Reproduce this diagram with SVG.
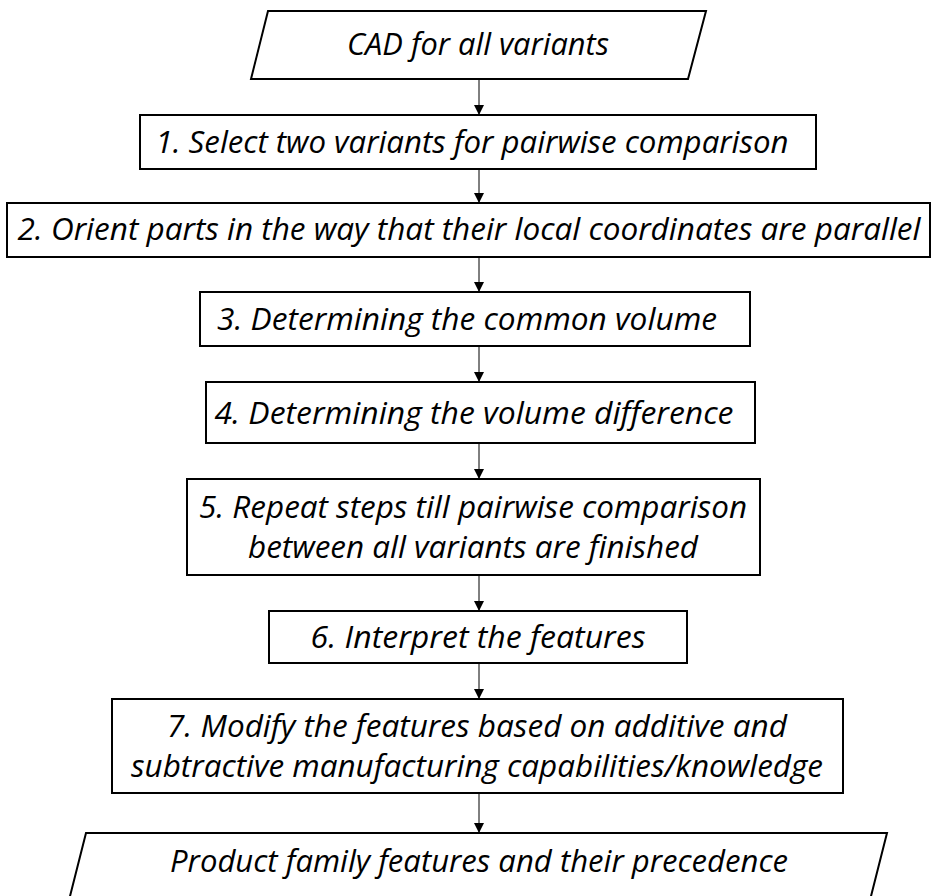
<svg xmlns="http://www.w3.org/2000/svg" width="932" height="896" viewBox="0 0 932 896">
  <style>
    .shape { fill: #ffffff; stroke: #000000; stroke-width: 2; }
    .label { font-family: "Open Sans", Lato, "Liberation Sans", sans-serif; font-style: italic; font-size: 31px; fill: #000000; text-anchor: middle; font-variant-ligatures: none; }
    .link { stroke: #000000; stroke-width: 1; fill: none; marker-end: url(#arrow); }
  </style>
  <defs>
    <marker id="arrow" viewBox="0 0 10 10" refX="10" refY="5" markerWidth="10" markerHeight="10" markerUnits="userSpaceOnUse" orient="auto">
      <path d="M0,0 L10,5 L0,10 z" fill="#000000"/>
    </marker>
  </defs>

  <rect width="932" height="896" fill="#ffffff"/>

  <g id="connectors">
    <line class="link" x1="479" y1="79" x2="479" y2="115"/>
    <line class="link" x1="479" y1="169" x2="479" y2="203"/>
    <line class="link" x1="479" y1="257" x2="479" y2="292"/>
    <line class="link" x1="479" y1="346" x2="479" y2="382"/>
    <line class="link" x1="479" y1="443" x2="479" y2="479"/>
    <line class="link" x1="479" y1="575" x2="479" y2="611"/>
    <line class="link" x1="479" y1="663" x2="479" y2="699"/>
    <line class="link" x1="479" y1="793" x2="479" y2="833"/>
  </g>

  <g id="input">
    <polygon class="shape" points="268,11 706,11 688,79 251,79"/>
    <text class="label" x="478" y="55" textLength="262" lengthAdjust="spacingAndGlyphs">CAD for all variants</text>
  </g>

  <g id="step1">
    <rect class="shape" x="140" y="115" width="676" height="54"/>
    <text class="label" x="472" y="153" textLength="633" lengthAdjust="spacingAndGlyphs">1. Select two variants for pairwise comparison</text>
  </g>

  <g id="step2">
    <rect class="shape" x="7" y="203" width="923" height="54"/>
    <text class="label" x="469" y="240" textLength="903" lengthAdjust="spacingAndGlyphs">2. Orient parts in the way that their local coordinates are parallel</text>
  </g>

  <g id="step3">
    <rect class="shape" x="200" y="292" width="550" height="54"/>
    <text class="label" x="467" y="330" textLength="500" lengthAdjust="spacingAndGlyphs">3. Determining the common volume</text>
  </g>

  <g id="step4">
    <rect class="shape" x="206" y="382" width="549" height="61"/>
    <text class="label" x="474" y="424" textLength="519" lengthAdjust="spacingAndGlyphs">4. Determining the volume difference</text>
  </g>

  <g id="step5">
    <rect class="shape" x="187" y="479" width="573" height="96"/>
    <text class="label" x="473" y="518" textLength="548" lengthAdjust="spacingAndGlyphs">5. Repeat steps till pairwise comparison</text>
    <text class="label" x="473" y="558" textLength="450" lengthAdjust="spacingAndGlyphs">between all variants are finished</text>
  </g>

  <g id="step6">
    <rect class="shape" x="269" y="611" width="418" height="52"/>
    <text class="label" x="478" y="648" textLength="335" lengthAdjust="spacingAndGlyphs">6. Interpret the features</text>
  </g>

  <g id="step7">
    <rect class="shape" x="112" y="699" width="731" height="94"/>
    <text class="label" x="477" y="737" textLength="620" lengthAdjust="spacingAndGlyphs">7. Modify the features based on additive and</text>
    <text class="label" x="477" y="777" textLength="692" lengthAdjust="spacingAndGlyphs">subtractive manufacturing capabilities/knowledge</text>
  </g>

  <g id="output">
    <polygon class="shape" points="86,833 887,833 867,912 66,912"/>
    <text class="label" x="479" y="872" textLength="618" lengthAdjust="spacingAndGlyphs">Product family features and their precedence</text>
  </g>
</svg>
